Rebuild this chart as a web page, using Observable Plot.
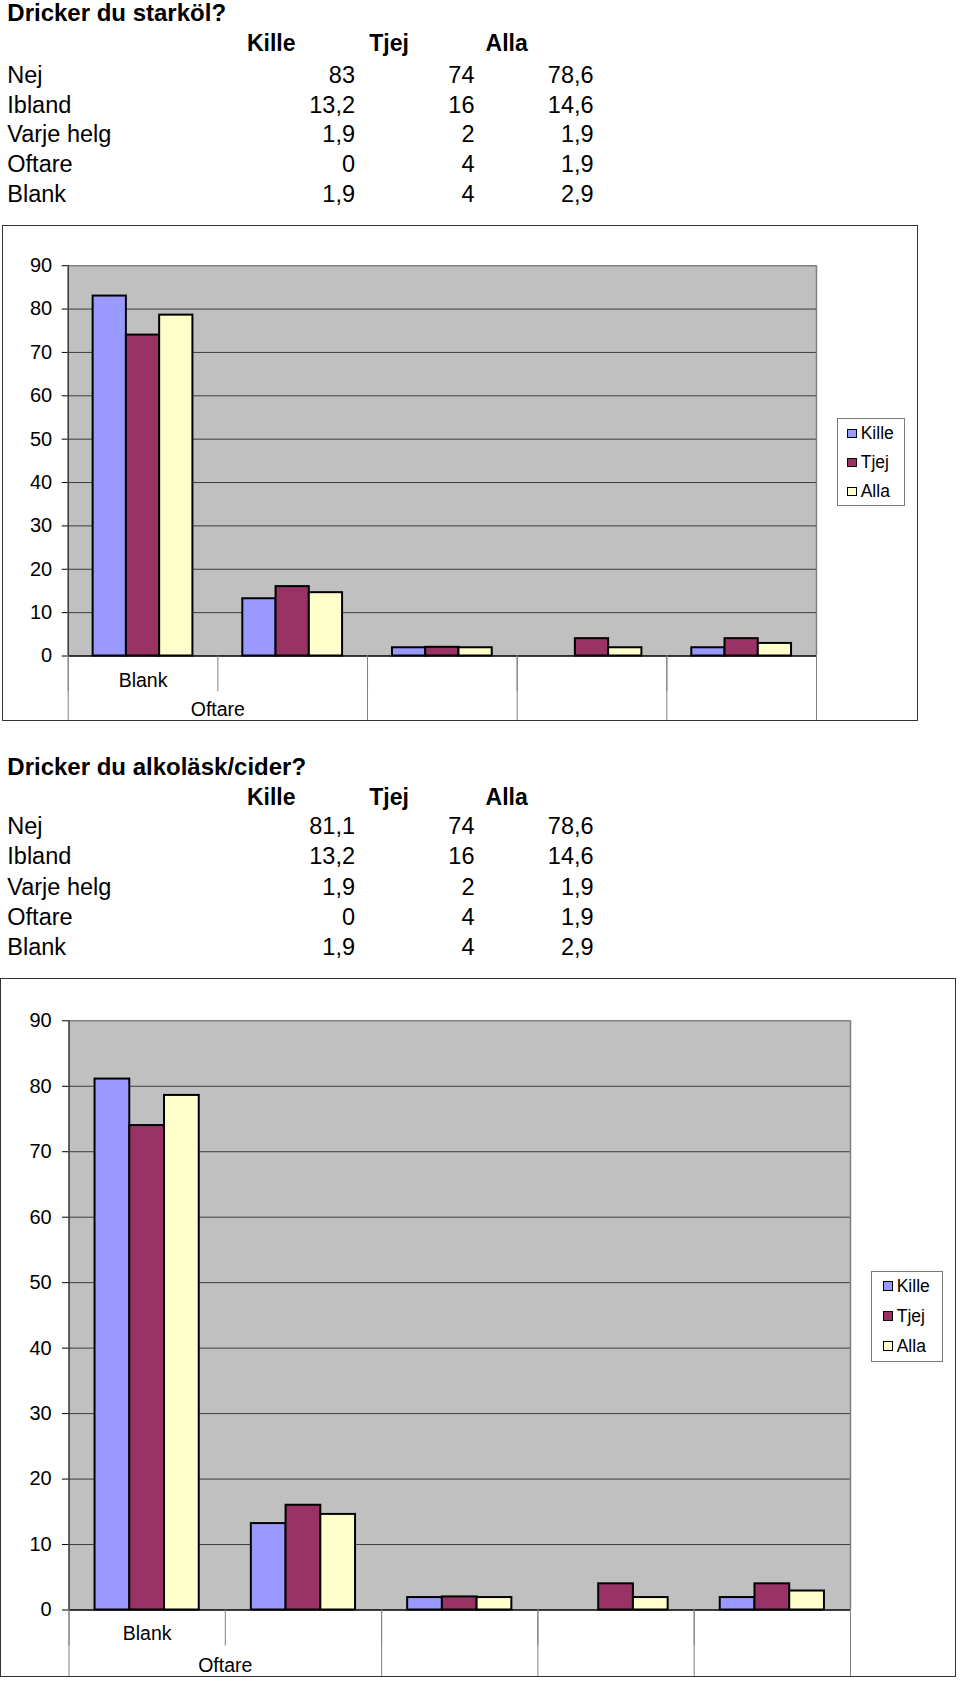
<!DOCTYPE html>
<html>
<head>
<meta charset="utf-8">
<script src="https://cdn.jsdelivr.net/npm/d3@7"></script>
<script src="https://cdn.jsdelivr.net/npm/@observablehq/plot@0.6"></script>
<style>
html, body { margin: 0; padding: 0; background: #fff; }
#page { position: relative; width: 960px; height: 1681px; overflow: hidden; font-family: "Liberation Sans", Arial, Helvetica, sans-serif; color: #000; background: #fff; }
.t { position: absolute; line-height: 0; white-space: nowrap; }
.frame { position: absolute; border: 1.5px solid #333; background: #fff; }
.frame svg { display: block; }
.legend { position: absolute; border: 1px solid #7a7a7a; background: #fff; box-sizing: border-box; }
.sw { position: absolute; box-sizing: border-box; border: 1.5px solid #000; }
</style>
</head>
<body>
<div id="page"></div>
<script>
// ---------- data ----------
const categories = ["Nej", "Ibland", "Varje helg", "Oftare", "Blank"];
const seriesNames = ["Kille", "Tjej", "Alla"];

const starkolTitle = "Dricker du starköl?";
const starkolKille = [83, 13.2, 1.9, 0, 1.9];
const starkolTjej  = [74, 16, 2, 4, 4];
const starkolAlla  = [78.6, 14.6, 1.9, 1.9, 2.9];

const ciderTitle = "Dricker du alkoläsk/cider?";
const ciderKille = [81.1, 13.2, 1.9, 0, 1.9];
const ciderTjej  = [74, 16, 2, 4, 4];
const ciderAlla  = [78.6, 14.6, 1.9, 1.9, 2.9];

const yTicks = [0, 10, 20, 30, 40, 50, 60, 70, 80, 90];
// category axis as printed in the original (two-level Excel axis)
const axisLevel1Labels = ["Blank"];
const axisLevel2Groups = [["Nej", "Ibland"], ["Varje helg"], ["Oftare"], ["Blank"]];
const axisLevel2Labels = ["Oftare", "", "", ""];

// ---------- styles ----------
const seriesColors = ["#9999FF", "#993366", "#FFFFCC"];
const FONT = '"Liberation Sans", Arial, Helvetica, sans-serif';
const page = document.getElementById("page");

function addText(str, x, baseline, size, opts = {}) {
  const el = document.createElement("div");
  el.className = "t";
  el.textContent = str;
  el.style.fontSize = size + "px";
  el.style.fontWeight = opts.bold ? "bold" : "normal";
  el.style.top = (baseline - 0.3465 * size) + "px";
  if (opts.align === "right") el.style.right = (960 - x) + "px";
  else el.style.left = x + "px";
  page.appendChild(el);
}

const fmt = v => String(v).replace(".", ",");

function drawTable(title, values, L) {
  addText(title, 7.3, L.title, 24, {bold: true});
  const headX = [246.9, 369.3, 485.6];
  const colRight = [355, 474.5, 593.6];
  seriesNames.forEach((s, j) => addText(s, headX[j], L.head, 23, {bold: true}));
  categories.forEach((c, i) => {
    const b = L.row0 + L.step * i;
    addText(c, 7.3, b, 23.5);
    values.forEach((arr, j) => addText(fmt(arr[i]), colRight[j], b, 23.5, {align: "right"}));
  });
}

function drawChart(S) {
  const {left, top, W, H, ml, mr, mt, mb, values} = S;
  const bw = (W - ml - mr) / categories.length;
  const rows = [];
  categories.forEach((c, i) => seriesNames.forEach((s, j) => rows.push({category: c, series: s, value: values[j][i]})));
  const groupFrac = 2 / 3, barFrac = groupFrac / seriesNames.length, gap = (1 - groupFrac) / 2;
  const bars = seriesNames.map((s, j) => Plot.barY(rows.filter(d => d.series === s), {
    x: "category", y: "value", fill: "series", stroke: "#000", strokeWidth: 2,
    insetLeft: bw * (gap + j * barFrac),
    insetRight: bw * (1 - gap - (j + 1) * barFrac)
  }));
  const first = categories[0], last = categories[categories.length - 1];
  const level2Starts = axisLevel2Groups.map(g => g[0]);
  const level2Text = axisLevel2Labels.map((lab, i) => lab ? Plot.text([lab], {
    x: () => axisLevel2Groups[i][0], text: d => d,
    dx: (axisLevel2Groups[i].length - 1) * bw / 2, dy: mb - 4.5,
    frameAnchor: "bottom", lineAnchor: "bottom", fontSize: 19.5
  }) : null).filter(Boolean);

  const chart = Plot.plot({
    width: W, height: H,
    marginLeft: ml, marginRight: mr, marginTop: mt, marginBottom: mb,
    style: {fontFamily: FONT, fontSize: "20px", color: "#000", background: "#fff"},
    x: {domain: categories, padding: 0, round: false, axis: null},
    y: {domain: [0, 90], ticks: yTicks, tickSize: S.tickSize, tickPadding: S.tickPadding, tickFormat: d => String(d), label: null},
    color: {domain: seriesNames, range: seriesColors},
    marks: [
      Plot.frame({fill: "#C0C0C0", stroke: "none"}),
      Plot.ruleY(yTicks.filter(t => t > 0 && t < 90), {stroke: "#3c3c3c", strokeWidth: 1}),
      Plot.ruleY([90], {stroke: "#808080", strokeWidth: 1.5}),
      Plot.ruleX([last], {dx: bw / 2, y1: 90, y2: 0, stroke: "#808080", strokeWidth: 1.5}),
      ...bars,
      Plot.ruleX([first], {dx: -bw / 2, y1: 90, y2: 0, stroke: "#333", strokeWidth: 1.5}),
      Plot.ruleY([0], {stroke: "#000", strokeWidth: 1.5}),
      // category axis below the zero line
      Plot.ruleX(categories, {dx: -bw / 2, y1: 0, y2: 0, insetBottom: -S.shortTick, stroke: "#808080"}),
      Plot.ruleX(level2Starts, {dx: -bw / 2, y1: 0, y2: 0, insetBottom: -mb, stroke: "#808080"}),
      Plot.ruleX([last], {dx: bw / 2, y1: 0, y2: 0, insetBottom: -mb, stroke: "#808080"}),
      Plot.text(axisLevel1Labels, {x: (d, i) => categories[i], text: d => d, dy: S.labelDy,
        frameAnchor: "bottom", lineAnchor: "bottom", fontSize: 19.5}),
      ...level2Text
    ]
  });

  const box = document.createElement("div");
  box.className = "frame";
  box.style.left = left + "px";
  box.style.top = top + "px";
  box.style.width = W + "px";
  box.style.height = H + "px";
  box.appendChild(chart);
  page.appendChild(box);

  // legend built from the chart's color scale
  const color = chart.scale("color");
  const Lg = S.legend;
  const lb = document.createElement("div");
  lb.className = "legend";
  lb.style.left = Lg.x + "px"; lb.style.top = Lg.y + "px";
  lb.style.width = Lg.w + "px"; lb.style.height = Lg.h + "px";
  page.appendChild(lb);
  color.domain.forEach((name, k) => {
    const b = Lg.base0 + Lg.step * k;
    const sw = document.createElement("div");
    sw.className = "sw";
    sw.style.left = Lg.swX + "px";
    sw.style.top = (b - Lg.sw - 1) + "px";
    sw.style.width = Lg.sw + "px"; sw.style.height = Lg.sw + "px";
    sw.style.background = color.range[k];
    page.appendChild(sw);
    addText(name, Lg.textX, b, 17.5);
  });
}

// ---------- chart 1 ----------
drawTable(starkolTitle, [starkolKille, starkolTjej, starkolAlla], {title: 21.7, head: 51, row0: 83.3, step: 29.6});
drawChart({
  left: 1.5, top: 225, W: 914, H: 494,
  ml: 64.7, mr: 101, mt: 39.2, mb: 64.5,
  tickSize: 6, tickPadding: 10, labelDy: 30.7, shortTick: 35.7,
  values: [starkolKille, starkolTjej, starkolAlla],
  legend: {x: 837.3, y: 418.3, w: 67.7, h: 87.7, swX: 847.3, sw: 9.5, textX: 860.7, base0: 439, step: 29}
});

// ---------- chart 2 ----------
drawTable(ciderTitle, [ciderKille, ciderTjej, ciderAlla], {title: 775.7, head: 804.5, row0: 834.3, step: 30.2});
drawChart({
  left: 0, top: 978, W: 954, H: 697,
  ml: 67.5, mr: 105, mt: 41.3, mb: 66.5,
  tickSize: 6.5, tickPadding: 10.8, labelDy: 30.4, shortTick: 36,
  values: [ciderKille, ciderTjej, ciderAlla],
  legend: {x: 871.3, y: 1270.7, w: 72, h: 91, swX: 883.3, sw: 10, textX: 896.7, base0: 1291.7, step: 30}
});
</script>
</body>
</html>
